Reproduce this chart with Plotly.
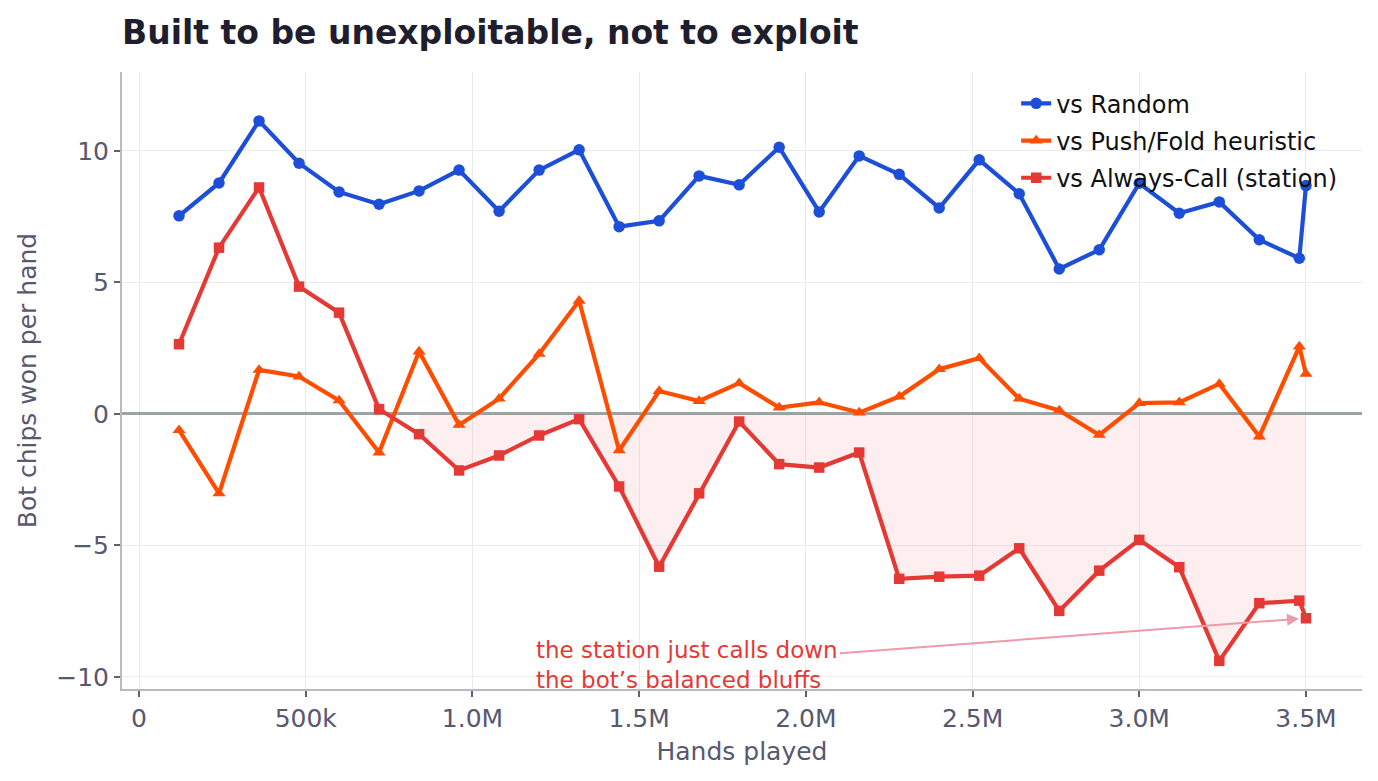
import plotly.graph_objects as go

# ---- data ----
hands = [120000, 240000, 360000, 480000, 600000, 720000, 840000, 960000, 1080000, 1200000,
         1320000, 1440000, 1560000, 1680000, 1800000, 1920000, 2040000, 2160000, 2280000, 2400000,
         2520000, 2640000, 2760000, 2880000, 3000000, 3120000, 3240000, 3360000, 3480000, 3500000]

vs_random = [7.53, 8.78, 11.14, 9.53, 8.44, 7.97, 8.48, 9.27, 7.71, 9.27,
             10.04, 7.12, 7.34, 9.05, 8.71, 10.14, 7.68, 9.81, 9.11, 7.83,
             9.66, 8.37, 5.51, 6.24, 8.77, 7.63, 8.06, 6.62, 5.92, 8.68]

vs_pushfold = [-0.62, -3.02, 1.67, 1.42, 0.51, -1.47, 2.37, -0.42, 0.58, 2.28,
               4.30, -1.39, 0.87, 0.49, 1.17, 0.24, 0.44, 0.05, 0.66, 1.70,
               2.12, 0.58, 0.13, -0.80, 0.41, 0.44, 1.14, -0.86, 2.56, 1.52]

vs_station = [2.65, 6.32, 8.61, 4.84, 3.85, 0.18, -0.77, -2.15, -1.58, -0.82,
              -0.20, -2.76, -5.81, -3.02, -0.29, -1.91, -2.04, -1.47, -6.27, -6.19,
              -6.15, -5.11, -7.49, -5.96, -4.79, -5.83, -9.39, -7.20, -7.10, -7.77]

shade_start = 6  # index where the station curve stays below zero

x_tickvals = [0, 500000, 1000000, 1500000, 2000000, 2500000, 3000000, 3500000]
x_ticktext = ["0", "500k", "1.0M", "1.5M", "2.0M", "2.5M", "3.0M", "3.5M"]
y_tickvals = [-10, -5, 0, 5, 10]
y_ticktext = ["\u221210", "\u22125", "0", "5", "10"]

title = "Built to be unexploitable, not to exploit"
note = "the station just calls down<br>the bot\u2019s balanced bluffs"

# ---- style ----
FONT = "DejaVu Sans"
BLUE = "#1d4ed8"
ORANGE = "#ff4d00"
RED = "#e53935"
AXIS = "#b9b9c4"
GRID = "#ebebef"
TICKC = "#585870"

fig = go.Figure()

fig.add_trace(go.Scatter(
    x=hands[shade_start:], y=vs_station[shade_start:], mode="lines",
    line=dict(width=0, color="rgba(0,0,0,0)"), fill="tozeroy",
    fillcolor="rgba(229,57,53,0.08)", showlegend=False, hoverinfo="skip"))

fig.add_trace(go.Scatter(
    x=hands, y=vs_random, mode="lines+markers", name="vs Random",
    line=dict(color=BLUE, width=4.2), marker=dict(symbol="circle", size=11.5, color=BLUE),
    legendgroup="a"))
fig.add_trace(go.Scatter(
    x=hands, y=vs_pushfold, mode="lines+markers", name="vs Push/Fold heuristic",
    line=dict(color=ORANGE, width=4.2), marker=dict(symbol="triangle-up", size=11.5, color=ORANGE),
    legendgroup="b"))
fig.add_trace(go.Scatter(
    x=hands, y=vs_station, mode="lines+markers", name="vs Always-Call (station)",
    line=dict(color=RED, width=4.2), marker=dict(symbol="square", size=10.5, color=RED),
    legendgroup="c"))

fig.add_annotation(
    x=hands[-1], y=vs_station[-1], xref="x", yref="y",
    ax=1645000, ay=-9.54, axref="x", ayref="y",
    text=note, align="left", showarrow=True,
    arrowhead=2, arrowsize=1.2, arrowwidth=2, arrowcolor="#ee9aa8", standoff=7,
    font=dict(family=FONT, size=23, color=RED))

fig.update_layout(
    width=1378, height=781,
    margin=dict(l=122, r=16, t=72, b=92),
    paper_bgcolor="white", plot_bgcolor="white",
    font=dict(family=FONT, color=TICKC),
    title=dict(text="<b>" + title + "</b>", x=0, xref="paper", xanchor="left",
               y=1 - 32 / 781, yref="container", yanchor="middle",
               font=dict(family=FONT, size=33, color="#1e1e2e")),
    legend=dict(x=0.984, y=0.985, xanchor="right", yanchor="top",
                bgcolor="rgba(0,0,0,0)", borderwidth=0, tracegroupgap=3,
                font=dict(family=FONT, size=24, color="#111111")),
    showlegend=True,
)

fig.update_xaxes(
    range=[-51000, 3668000], tickvals=x_tickvals, ticktext=x_ticktext,
    showgrid=True, gridcolor=GRID, gridwidth=1,
    showline=True, linecolor=AXIS, linewidth=2, mirror=False,
    ticks="outside", ticklen=6, tickwidth=2, tickcolor="#606070",
    tickfont=dict(family=FONT, size=25, color=TICKC),
    title=dict(text="Hands played", font=dict(family=FONT, size=25, color=TICKC), standoff=10),
    zeroline=False)

fig.update_yaxes(
    range=[-10.46, 13.0], tickvals=y_tickvals, ticktext=y_ticktext,
    showgrid=True, gridcolor=GRID, gridwidth=1,
    showline=True, linecolor=AXIS, linewidth=2, mirror=False,
    ticks="outside", ticklen=6, tickwidth=2, tickcolor="#606070",
    tickfont=dict(family=FONT, size=25, color=TICKC),
    title=dict(text="Bot chips won per hand", font=dict(family=FONT, size=25, color=TICKC), standoff=12),
    zeroline=True, zerolinecolor="#9aa6a6", zerolinewidth=2.5)

fig.write_html("out.html")
